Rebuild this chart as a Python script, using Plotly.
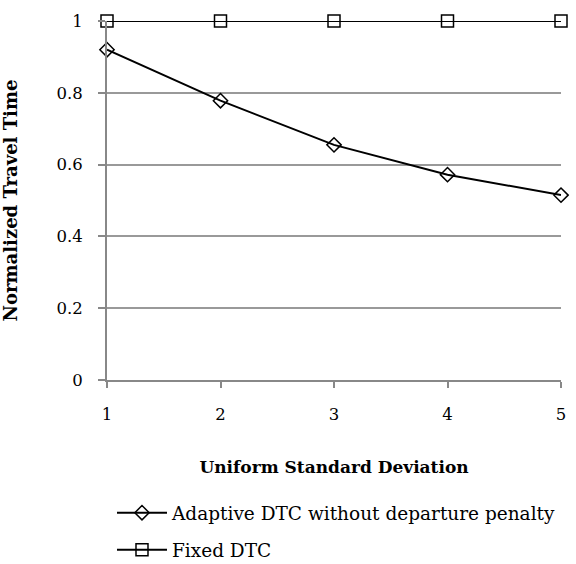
import plotly.graph_objects as go

x_vals = [1, 2, 3, 4, 5]
adaptive = [0.92, 0.778, 0.655, 0.572, 0.515]
fixed = [1, 1, 1, 1, 1]
y_ticks = [0, 0.2, 0.4, 0.6, 0.8, 1]
y_tick_labels = ["0", "0.2", "0.4", "0.6", "0.8", "1"]

FONT = "DejaVu Serif"

fig = go.Figure()
fig.add_trace(go.Scatter(
    x=x_vals, y=adaptive, mode="lines+markers",
    name="Adaptive DTC without departure penalty", legendgroup="a",
    line=dict(color="black", width=2),
    marker=dict(symbol="diamond-open", size=11, color="black", line=dict(width=1.5)),
    cliponaxis=False,
))
fig.add_trace(go.Scatter(
    x=x_vals, y=fixed, mode="lines+markers",
    name="Fixed DTC", legendgroup="b",
    line=dict(color="black", width=2),
    marker=dict(symbol="square-open", size=12, color="black", line=dict(width=1.5)),
    cliponaxis=False,
))

fig.update_layout(
    width=576, height=564,
    margin=dict(l=107, r=15, t=21, b=184, autoexpand=False),
    plot_bgcolor="white", paper_bgcolor="white",
    font=dict(family=FONT, size=16, color="black"),
    showlegend=True,
    legend=dict(x=0.011, y=-0.318, xanchor="left", yanchor="top",
                font=dict(family=FONT, size=18.5), tracegroupgap=10,
                traceorder="grouped", itemwidth=50),
    xaxis=dict(
        range=[1, 5], tickvals=x_vals, showgrid=False, zeroline=False,
        showline=True, linecolor="#888888", linewidth=2,
        ticks="outside", ticklen=6, tickcolor="#888888", tickwidth=2,
        tickfont=dict(size=16.5), ticklabelstandoff=12, automargin=False,
        title=dict(text="<b>Uniform Standard Deviation</b>", font=dict(size=17), standoff=38),
    ),
    yaxis=dict(
        range=[0, 1], tickvals=y_ticks, ticktext=y_tick_labels,
        showgrid=True, gridcolor="#999999", gridwidth=1.5, zeroline=False,
        showline=True, linecolor="#888888", linewidth=2,
        ticks="outside", ticklen=7, tickcolor="#888888", tickwidth=2,
        tickfont=dict(size=16.5), automargin=False, ticklabelstandoff=12,
        title=dict(text="<b>Normalized Travel Time</b>", font=dict(size=18), standoff=38),
    ),
)

fig.write_html("out.html", config={"displayModeBar": False},
               post_script="document.body.style.margin='0';")
